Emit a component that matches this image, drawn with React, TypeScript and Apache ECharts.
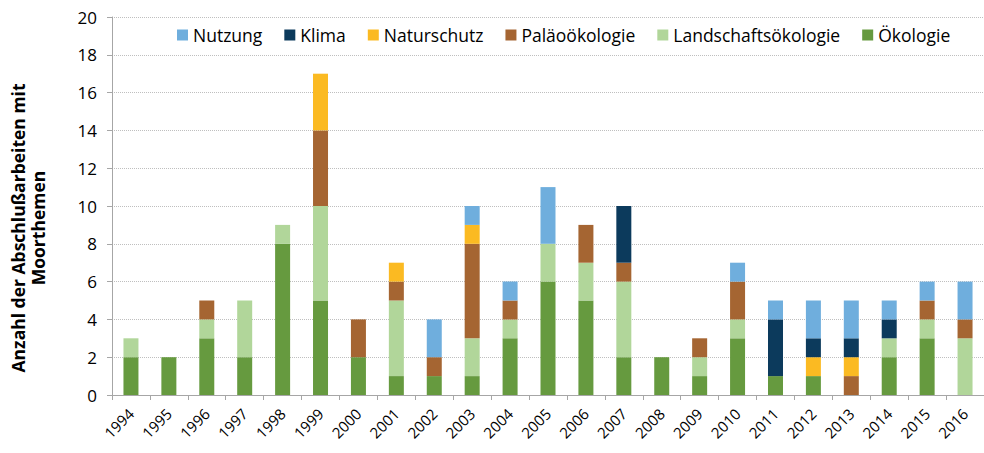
import React, { useEffect, useRef } from "react";
import * as echarts from "echarts";

const years = ["1994","1995","1996","1997","1998","1999","2000","2001","2002","2003","2004","2005","2006","2007","2008","2009","2010","2011","2012","2013","2014","2015","2016"];
const oekologie =            [2,2,3,2,8,5,2,1,1,1,3,6,5,2,2,1,3,1,1,0,2,3,0];
const landschaftsoekologie = [1,0,1,3,1,5,0,4,0,2,1,2,2,4,0,1,1,0,0,0,1,1,3];
const palaeooekologie =      [0,0,1,0,0,4,2,1,1,5,1,0,2,1,0,1,2,0,0,1,0,1,1];
const naturschutz =          [0,0,0,0,0,3,0,1,0,1,0,0,0,0,0,0,0,0,1,1,0,0,0];
const klima =                [0,0,0,0,0,0,0,0,0,0,0,0,0,3,0,0,0,3,1,1,1,0,0];
const nutzung =              [0,0,0,0,0,0,0,0,2,1,1,3,0,0,0,0,1,1,2,2,1,1,2];
const legendOrder = ["Nutzung","Klima","Naturschutz","Paläoökologie","Landschaftsökologie","Ökologie"];
const yTitle = "Anzahl der Abschlußarbeiten mit\nMoorthemen";

const FONT = "'Open Sans', sans-serif";

export default function App() {
  const ref = useRef<HTMLDivElement>(null);
  useEffect(() => {
    const chart = echarts.init(ref.current!, null, { renderer: "svg" });
    const mk = (name: string, data: number[], color: string) => ({
      name, type: "bar", stack: "total", data, barWidth: 15,
      itemStyle: { color },
    });
    chart.setOption({
      animation: false,
      textStyle: { fontFamily: FONT },
      grid: { left: 112, right: 0, top: 17, bottom: 58 },
      legend: {
        data: legendOrder,
        left: 172, top: 21,
        itemWidth: 11, itemHeight: 11, itemGap: 22,
        icon: "rect",
        textStyle: { fontSize: 17.5, color: "#000", fontFamily: FONT },
      },
      graphic: [{
        type: "text",
        x: 28, y: 228, rotation: Math.PI / 2,
        style: {
          text: yTitle,
          fontSize: 17.5, fontWeight: "bold", fill: "#000",
          fontFamily: FONT, lineHeight: 20,
          align: "center", verticalAlign: "middle",
        },
      }],
      xAxis: {
        type: "category", data: years,
        axisLine: { lineStyle: { color: "#a6a6a6" } },
        axisTick: { show: true, length: 5, lineStyle: { color: "#a6a6a6" } },
        axisLabel: { rotate: 45, fontSize: 15, color: "#000", margin: 16, fontFamily: FONT },
      },
      yAxis: {
        type: "value", min: 0, max: 20, interval: 2,
        axisLine: { show: true, lineStyle: { color: "#a6a6a6" } },
        axisTick: { show: true, length: 5, lineStyle: { color: "#a6a6a6" } },
        axisLabel: { fontSize: 17, color: "#000", margin: 15, fontFamily: FONT },
        splitLine: { lineStyle: { color: "#bfbfbf", type: "dotted" } },
      },
      series: [
        mk("Ökologie", oekologie, "#669A3F"),
        mk("Landschaftsökologie", landschaftsoekologie, "#B1D69A"),
        mk("Paläoökologie", palaeooekologie, "#A56532"),
        mk("Naturschutz", naturschutz, "#FBBA22"),
        mk("Klima", klima, "#0C3A5C"),
        mk("Nutzung", nutzung, "#6FAEDD"),
      ],
    });
    return () => chart.dispose();
  }, []);
  return <div ref={ref} style={{ position: "absolute", left: 0, top: 0, width: 984, height: 453 }} />;
}
